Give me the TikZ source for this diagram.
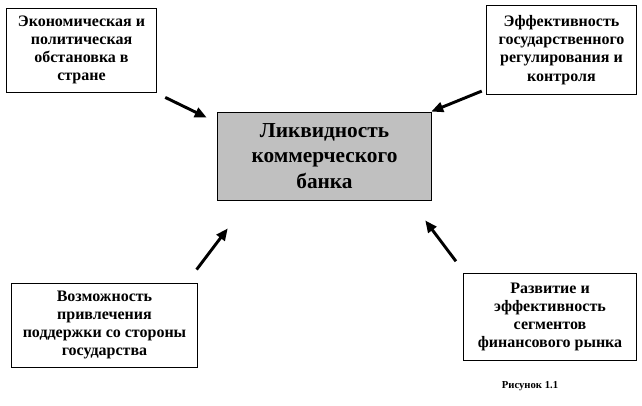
\documentclass[tikz,border=0pt]{standalone}
\usepackage{fontspec}
\setmainfont{Liberation Serif}
\usetikzlibrary{arrows.meta,positioning}
\definecolor{ink}{HTML}{000000}
\definecolor{bankgray}{HTML}{C0C0C0}
\tikzset{
  factorbox/.style={draw=ink,fill=white,line width=0.6pt,
                    align=center,inner sep=2pt,
                    font=\fontsize{12}{13.7}\selectfont\bfseries},
  bankbox/.style={draw=ink,fill=bankgray,line width=0.6pt,
                  minimum width=161pt,minimum height=66pt,
                  align=center,inner sep=2pt,
                  font=\fontsize{16}{19}\selectfont\bfseries},
  flowarr/.style={-{Triangle[length=9pt,width=7.5pt]},line width=2.2pt,color=ink},
  caption/.style={font=\fontsize{8}{9}\selectfont\bfseries}
}
\begin{document}
\begin{tikzpicture}[x=0.75pt,y=-0.75pt]
  \useasboundingbox (0,0) rectangle (642,406);
  % central node
  \node[bankbox] (bank) at (324.5,156) {Ликвидность\\коммерческого\\банка};
  % four factors
  \node[factorbox,minimum width=113pt,minimum height=63pt] (econ) at (81.5,50)
    {Экономическая и\\политическая\\обстановка в\\стране};
  \node[factorbox,minimum width=113pt,minimum height=67pt] (regul) at (561.5,50)
    {Эффективность\\государственного\\регулирования и\\контроля};
  \node[factorbox,minimum width=139pt,minimum height=63pt] (support) at (104.5,325)
    {Возможность\\привлечения\\поддержки со стороны\\государства};
  \node[factorbox,minimum width=130pt,minimum height=65pt] (market) at (550,317)
    {Развитие и\\эффективность\\сегментов\\финансового рынка};
  \node[caption] (fig) at (530,386) {Рисунок 1.1};
  % arrows
  \draw[flowarr] ([shift={(8,5)}]econ.south east) -- ([shift={(-10,6)}]bank.north west);
  \draw[flowarr] ([shift={(-4,-4)}]regul.south west) -- ([shift={(-1,0)}]bank.north east);
  \draw[flowarr] ([shift={(-1,-13)}]support.north east) -- ([shift={(11,28)}]bank.south west);
  \draw[flowarr] ([shift={(-7,-12)}]market.north west) -- ([shift={(-7,20)}]bank.south east);
\end{tikzpicture}
\end{document}
